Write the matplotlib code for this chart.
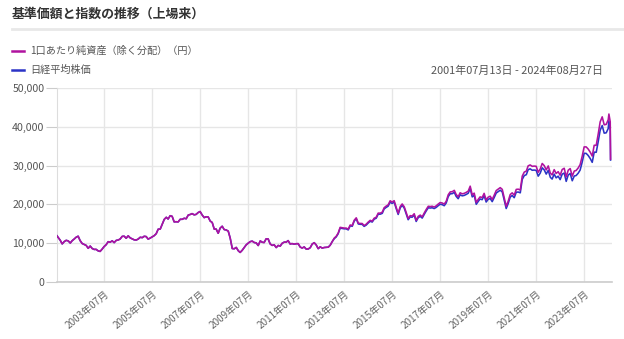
import numpy as np
import pandas as pd
import matplotlib
matplotlib.use('Agg')
import matplotlib.pyplot as plt
from matplotlib.ticker import FuncFormatter

plt.rcParams['font.family'] = ['Noto Sans CJK JP', 'DejaVu Sans']

# 2001/07 - 2012/12 月末値（基準価額・日経平均とも同水準）
early = [11860, 10713, 9775, 10366, 10697, 10543,
         9997, 10588, 11025, 11493, 11764, 10622, 9877, 9619, 9383, 8640, 9216, 8579,
         8340, 8363, 7973, 7831, 8425, 9083, 9563, 10344, 10219, 10560, 10101, 10677,
         10784, 11042, 11715, 11762, 11236, 11858, 11326, 11082, 10824, 10771, 11031, 11489,
         11388, 11741, 11669, 11009, 11277, 11584, 11900, 12414, 13574, 13607, 14872, 16111,
         16650, 16206, 17060, 16907, 15467, 15505, 15457, 16141, 16128, 16399, 16274, 17226,
         17383, 17604, 17288, 17400, 17876, 18138, 17249, 16569, 16786, 16738, 15681, 15308,
         13592, 13603, 12526, 13850, 14338, 13481, 13377, 13073, 11260, 8577, 8512, 8860,
         7994, 7568, 8110, 8828, 9523, 9958, 10357, 10493, 10133, 10035, 9346, 10546,
         10198, 10126, 11090, 11057, 9769, 9383, 9537, 8824, 9369, 9202, 9937, 10229,
         10237, 10624, 9755, 9849, 9694, 9816, 9833, 8955, 8700, 8988, 8435, 8455,
         8803, 9723, 10084, 9520, 8543, 9007, 8695, 8840, 8870, 8928, 9446, 10395]

# 2013/01 - 2024/08 日経平均株価
nikkei_late = [11139, 11559, 12398, 13861, 13775, 13677, 13668, 13389, 14456, 14328, 15662, 16291,
               14915, 14841, 14828, 14304, 14632, 15162, 15621, 15425, 16174, 16414, 17460, 17451,
               17674, 18798, 19207, 19520, 20563, 20236, 20585, 18890, 17388, 19083, 19747, 19034,
               17518, 16027, 16759, 16666, 17235, 15576, 16569, 16887, 16450, 17425, 18308, 19114,
               19041, 19119, 18909, 19197, 19651, 20033, 19925, 19646, 20356, 22012, 22725, 22765,
               23098, 22068, 21454, 22468, 22202, 22305, 22554, 22865, 24120, 21920, 22351, 20015,
               20773, 21385, 21206, 22259, 20601, 21276, 21522, 20704, 21756, 22927, 23294, 23657,
               23205, 21143, 18917, 20194, 21878, 22288, 21710, 23140, 23185, 22977, 26434, 27444,
               27663, 28966, 29179, 28813, 28860, 28792, 27284, 28090, 29453, 28893, 27822, 28792,
               27002, 26527, 27821, 26848, 27280, 26393, 27802, 28092, 25937, 27587, 27969, 26095,
               27327, 27446, 28041, 28856, 30888, 33189, 33172, 32619, 31858, 30859, 33487, 33464,
               36287, 39166, 40369, 38406, 38488, 39583, 41600, 39102, 31458]

# 2013/01 - 2024/08 1口あたり純資産（除く分配）
nav_late = [11290, 11720, 12570, 14050, 13960, 13860, 13860, 13580, 14660, 14530, 15880, 16520,
            15130, 15060, 15050, 14520, 14860, 15400, 15860, 15660, 16420, 16670, 17730, 17720,
            17980, 19120, 19540, 19860, 20920, 20590, 20950, 19230, 17700, 19430, 20100, 19380,
            17850, 16330, 17080, 16990, 17570, 15880, 16890, 17220, 16780, 17780, 18680, 19500,
            19430, 19510, 19300, 19600, 20070, 20460, 20350, 20070, 20800, 22490, 23220, 23270,
            23620, 22570, 21950, 22990, 22720, 22830, 23090, 23410, 24700, 22450, 22900, 20510,
            21300, 21930, 21750, 22840, 21140, 21840, 22100, 21260, 22350, 23560, 23940, 24320,
            23870, 21760, 19480, 20800, 22540, 22970, 22380, 23860, 23920, 23710, 27290, 28340,
            28590, 29950, 30190, 29830, 29890, 29840, 28290, 29140, 30570, 30000, 28910, 29930,
            28090, 27610, 28970, 27980, 28440, 27530, 29010, 29330, 27090, 28830, 29240, 27300,
            28610, 28750, 29390, 30260, 32410, 34850, 34850, 34290, 33510, 32480, 35270, 35260,
            38270, 41330, 42620, 40570, 40670, 41850, 43350, 41350, 31700]

tail_dates = ['2024-07-11', '2024-07-31', '2024-08-05']

nav = early + nav_late
nikkei = early + nikkei_late
dates = list(pd.date_range('2001-07-31', '2024-06-30', freq='ME'))
dates[0] = pd.Timestamp('2001-07-13')
dates = dates + [pd.Timestamp(d) for d in tail_dates]

tick_years = list(range(2003, 2024, 2))

c_nav = '#b0129f'
c_nk = '#2b33c6'

fig = plt.figure(figsize=(6.24, 3.39), dpi=100)
ax = fig.add_axes([57/624, 1-281.7/339, 555/624, 193.4/339])

ax.plot(dates, nikkei, color=c_nk, lw=1.15, zorder=3)
ax.plot(dates, nav, color=c_nav, lw=1.15, zorder=4)

ax.set_xlim(pd.Timestamp('2001-07-13'), pd.Timestamp('2024-08-27'))
ax.set_ylim(0, 50000)
ax.set_yticks(np.arange(0, 50001, 10000))
ax.yaxis.set_major_formatter(FuncFormatter(lambda v, p: f'{int(v):,}'))
ax.set_xticks([pd.Timestamp(f'{y}-07-01') for y in tick_years])
ax.set_xticklabels([f'{y}年07月' for y in tick_years], rotation=40, ha='right',
                   rotation_mode='anchor', fontsize=7.2, color='#666666')
ax.tick_params(axis='y', labelsize=7.6, labelcolor='#555555', color='#cccccc', length=8, pad=1)
ax.tick_params(axis='x', length=0, pad=5)
ax.grid(True, color='#e6e6e6', lw=1)
ax.set_axisbelow(True)
for s in ['top', 'right']:
    ax.spines[s].set_visible(False)
ax.spines['left'].set_color('#dddddd')
ax.spines['bottom'].set_color('#cccccc')
ax.spines['bottom'].set_linewidth(1.2)

# タイトルと区切り線
fig.text(12/624, 1-14/339, '基準価額と指数の推移（上場来）', fontsize=9.3, fontweight='bold',
         color='#333333', va='center')
fig.add_artist(plt.Line2D([12/624, 1.0], [1-29/339, 1-29/339], color='#e8e8e8', lw=2))

# 凡例
for yy, col, lab in [(50.5, c_nav, '1口あたり純資産（除く分配）（円）'), (70, c_nk, '日経平均株価')]:
    fig.add_artist(plt.Line2D([12/624, 24/624], [1-yy/339, 1-yy/339], color=col, lw=1.8))
    fig.text(30/624, 1-yy/339, lab, fontsize=7.3, color='#555555', va='center')

fig.text(603/624, 1-71/339, '2001年07月13日 - 2024年08月27日', fontsize=7.9,
         color='#555555', va='center', ha='right')

fig.savefig('out.png', dpi=100, facecolor='white')
